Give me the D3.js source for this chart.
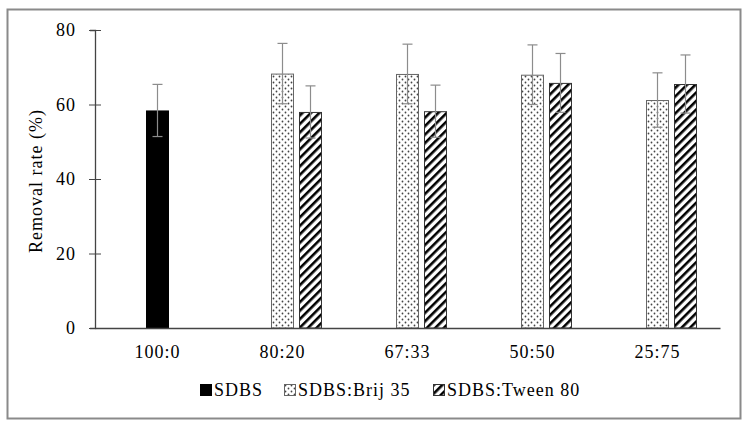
<!DOCTYPE html>
<html>
<head>
<meta charset="utf-8">
<script src="https://cdn.jsdelivr.net/npm/d3@7"></script>
<style>
  body { margin: 0; background: #fff; }
  svg text { font-family: "Liberation Serif", "DejaVu Serif", "Times New Roman", Times, serif !important; fill: #000; letter-spacing: 1px; }
</style>
</head>
<body>
<svg width="749" height="427"></svg>
<script>
// Ratios on the x axis
var categories = ["100:0", "80:20", "67:33", "50:50", "25:75"];
var seriesNames = ["SDBS", "SDBS:Brij 35", "SDBS:Tween 80"];

// removal rate (%) and standard deviation, null where no bar
var sdbsValues = [58.4, null, null, null, null];
var sdbsErr = [7.0, null, null, null, null];
var brijValues = [null, 68.3, 68.2, 68.0, 61.2];
var brijErr = [null, 8.1, 8.0, 8.0, 7.3];
var tweenValues = [null, 58.0, 58.2, 65.8, 65.5];
var tweenErr = [null, 7.0, 7.0, 7.9, 7.8];
var yTicks = [0, 20, 40, 60, 80];

var svg = d3.select("svg"),
    margin = { top: 30, right: 29, bottom: 99, left: 95 },
    width = +svg.attr("width") - margin.left - margin.right,
    height = +svg.attr("height") - margin.top - margin.bottom;

// outer frame
svg.append("rect")
    .attr("x", 7.5).attr("y", 9.5)
    .attr("width", 733).attr("height", 409)
    .attr("fill", "none")
    .attr("stroke", "#8a8a8a")
    .attr("stroke-width", 2);

// patterns for the mixed series
var defs = svg.append("defs");
var dots = defs.append("pattern")
    .attr("id", "dots")
    .attr("patternUnits", "userSpaceOnUse")
    .attr("width", 6).attr("height", 6);
dots.append("rect").attr("width", 6).attr("height", 6).attr("fill", "#fff");
dots.append("circle").attr("cx", 1.5).attr("cy", 1.5).attr("r", 0.9).attr("fill", "#444");
dots.append("circle").attr("cx", 4.5).attr("cy", 4.5).attr("r", 0.9).attr("fill", "#444");

var hatch = defs.append("pattern")
    .attr("id", "hatch")
    .attr("patternUnits", "userSpaceOnUse")
    .attr("width", 6).attr("height", 6)
    .attr("patternTransform", "rotate(45)");
hatch.append("rect").attr("width", 6).attr("height", 6).attr("fill", "#fff");
hatch.append("rect").attr("x", 0).attr("width", 2.6).attr("height", 6).attr("fill", "#000");

var fills = ["#000", "url(#dots)", "url(#hatch)"];
var strokes = ["#000", "#666", "#333"];

var x = d3.scaleBand().domain(categories).range([0, width]);
var y = d3.scaleLinear().domain([0, 80]).range([height, 0]);

// SDBS and Brij share the left slot, Tween sits to the right
var slot = d3.scaleBand().domain([0, 1]).range([-11.5, 39.5]).paddingInner(5 / 28);
var slotOf = [0, 0, 1];

var g = svg.append("g")
    .attr("transform", "translate(" + margin.left + "," + margin.top + ")");

// build rows
var rows = [];
[sdbsValues, brijValues, tweenValues].forEach(function(vals, s) {
    var errs = [sdbsErr, brijErr, tweenErr][s];
    vals.forEach(function(v, i) {
        if (v == null) return;
        rows.push({ cat: categories[i], s: s, value: v, err: errs[i] });
    });
});

function barX(d) { return x(d.cat) + x.bandwidth() / 2 + slot(slotOf[d.s]); }

g.selectAll(".bar")
    .data(rows)
    .enter().append("rect")
    .attr("class", "bar")
    .attr("x", function(d) { return barX(d) + 0.5; })
    .attr("y", function(d) { return y(d.value) + 0.5; })
    .attr("width", slot.bandwidth() - 1)
    .attr("height", function(d) { return height - y(d.value) - 0.5; })
    .attr("fill", function(d) { return fills[d.s]; })
    .attr("stroke", function(d) { return strokes[d.s]; })
    .attr("stroke-width", 1);

// error bars
var eb = g.selectAll(".err")
    .data(rows)
    .enter().append("g")
    .attr("class", "err")
    .attr("stroke", "#8c8c8c")
    .attr("stroke-width", 1.2);
eb.append("line")
    .attr("x1", function(d) { return barX(d) + slot.bandwidth() / 2; })
    .attr("x2", function(d) { return barX(d) + slot.bandwidth() / 2; })
    .attr("y1", function(d) { return y(d.value + d.err); })
    .attr("y2", function(d) { return y(d.value - d.err); });
[1, -1].forEach(function(sign) {
    eb.append("line")
        .attr("x1", function(d) { return barX(d) + slot.bandwidth() / 2 - 5; })
        .attr("x2", function(d) { return barX(d) + slot.bandwidth() / 2 + 5; })
        .attr("y1", function(d) { return y(d.value + sign * d.err); })
        .attr("y2", function(d) { return y(d.value + sign * d.err); });
});

// y axis
var yAxis = g.append("g")
    .call(d3.axisLeft(y).tickValues(yTicks).tickSize(5).tickPadding(14));
yAxis.attr("font-family", null).attr("font-size", null);
yAxis.select(".domain").attr("stroke", "#444").attr("stroke-width", 1.3);
yAxis.selectAll(".tick line").attr("stroke", "#444").attr("x2", 6).attr("x1", -6)
    .filter(function(d) { return d === 0; }).attr("x2", 0);
yAxis.selectAll(".tick text").style("font-size", "18px");

// x axis
var xAxis = g.append("g")
    .attr("transform", "translate(0," + height + ")")
    .call(d3.axisBottom(x).tickSize(0).tickPadding(17));
xAxis.attr("font-family", null).attr("font-size", null);
xAxis.select(".domain").attr("stroke", "#444").attr("stroke-width", 1.3);
xAxis.selectAll(".tick text").style("font-size", "18px");

// y title
svg.append("text")
    .attr("transform", "translate(42," + (margin.top + height / 2 + 2) + ") rotate(-90)")
    .attr("text-anchor", "middle")
    .style("font-size", "18px")
    .text("Removal rate (%)");

// legend
var legendX = [200, 284, 433];
var legend = svg.selectAll(".legend")
    .data(seriesNames)
    .enter().append("g")
    .attr("class", "legend")
    .attr("transform", function(d, i) { return "translate(" + legendX[i] + ",384)"; });
legend.append("rect")
    .attr("x", 0.5).attr("y", 0.5)
    .attr("width", 11).attr("height", 11)
    .attr("fill", function(d, i) { return fills[i]; })
    .attr("stroke", function(d, i) { return strokes[i]; });
legend.append("text")
    .attr("x", 14).attr("y", 12)
    .style("font-size", "18px")
    .text(function(d) { return d; });
</script>
</body>
</html>
